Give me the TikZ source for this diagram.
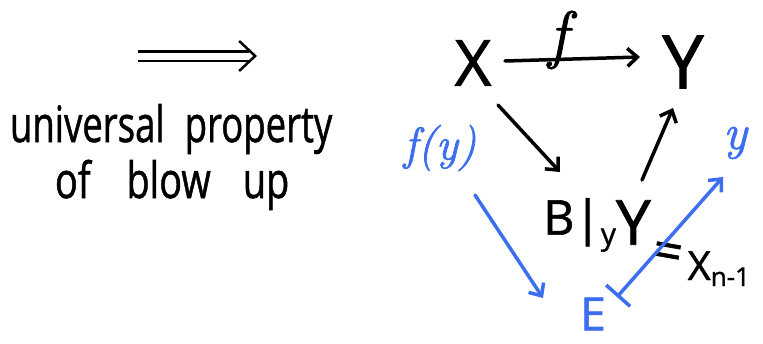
\documentclass[tikz,border=0pt]{standalone}
\usepackage{fontspec}
\usetikzlibrary{arrows.meta,calc}
\newfontfamily\hand{Open Sans}[FakeBold=1.2]
\newfontfamily\handit{Latin Modern Roman}[FakeBold=1.5]
\definecolor{penblue}{HTML}{3C6EF0}
\begin{document}
\begin{tikzpicture}[x=1pt,y=1pt,
  ink/.style={line width=3.5pt, line cap=round, line join=round},
  arr/.style={ink, -{Straight Barb[length=10pt,width=18pt]}},
  lbl/.style={inner sep=0pt, outer sep=0pt}]
\useasboundingbox (0,0) rectangle (763,-343);

% left text
\coordinate (da1) at (138,-56);
\coordinate (da2) at (257,-56);
\draw[line width=2.2pt, double distance=7pt] (da1) -- ([xshift=-8pt]da2);
\draw[line width=2.5pt, line cap=round, line join=round, -{Straight Barb[length=16pt,width=30pt]}] ([xshift=-3pt]da2) -- (da2);

\node[lbl, anchor=base west, font=\fontsize{50}{50}\hand] (t1) at (10,-142) {\scalebox{0.73}[1]{universal\hspace{0.55em}property}};
\node[lbl, anchor=base west, font=\fontsize{50}{50}\hand] (t2) at (55,-198) {\scalebox{0.756}[1]{of\hspace{0.95em}blow\hspace{0.85em}up}};

% diagram nodes
\node[lbl, font=\fontsize{64}{64}\hand] (X) at (473,-63) {X};
\node[lbl, font=\fontsize{74}{74}\hand] (Y) at (683,-62) {Y};
\node[lbl, font=\fontsize{64}{64}\handit\itshape] (f) at (558,-40) {f};
\node[lbl, font=\fontsize{48}{48}\hand] (Bl) at (597,-225) {B|\raisebox{-10pt}{\fontsize{30}{30}\selectfont y}\raisebox{-10pt}{\fontsize{62}{62}\selectfont Y}};
\node[lbl, anchor=base west, font=\fontsize{40}{40}\hand] (Xn) at (650,-280) {\raisebox{14pt}{\rotatebox{-10}{\fontsize{52}{52}\selectfont =}}\hspace{4pt}X\raisebox{-6pt}{\fontsize{26}{26}\selectfont n-1}};

\node[lbl, text=penblue, font=\fontsize{46}{46}\handit\itshape] (fy) at (440,-148) {f(y)};
\node[lbl, text=penblue, font=\fontsize{50}{50}\handit\itshape] (yb) at (735,-143) {y};
\node[lbl, text=penblue, font=\fontsize{46}{46}\hand] (E) at (593,-314) {E};

% connectors
\draw[arr] ([shift={(32,2)}]X.center) -- ([shift={(-43,5)}]Y.center);
\draw[arr] ([shift={(25,-42)}]X.center) -- ([shift={(-37,53)}]Bl.center);
\draw[arr] ([shift={(45,45)}]Bl.center) -- ([shift={(-10,-46)}]Y.center);
\draw[arr, penblue] ([shift={(35,-47)}]fy.center) -- ([shift={(-50,16)}]E.center);
\draw[ink, penblue, {Bar[width=32pt]}-{Straight Barb[length=10pt,width=18pt]}] ([shift={(24,17)}]E.center) -- ([shift={(-12,-34)}]yb.center);
\end{tikzpicture}
\end{document}
